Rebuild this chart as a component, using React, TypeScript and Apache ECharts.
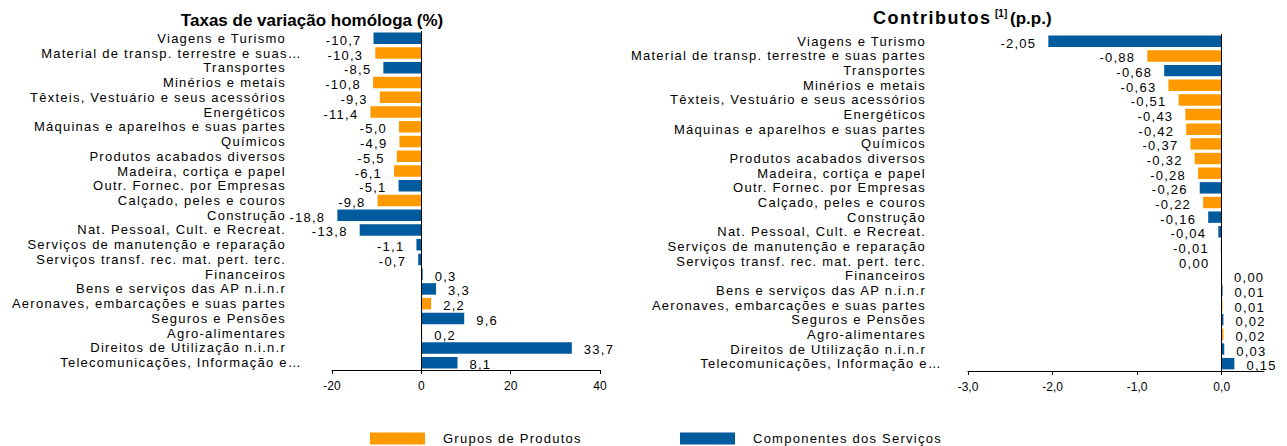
import React, { useEffect, useRef } from "react";
import * as echarts from "echarts";

const categoriesLeft = [
  "Viagens e Turismo",
  "Material de transp. terrestre e suas…",
  "Transportes",
  "Minérios e metais",
  "Têxteis, Vestuário e seus acessórios",
  "Energéticos",
  "Máquinas e aparelhos e suas partes",
  "Químicos",
  "Produtos acabados diversos",
  "Madeira, cortiça e papel",
  "Outr. Fornec. por Empresas",
  "Calçado, peles e couros",
  "Construção",
  "Nat. Pessoal, Cult. e Recreat.",
  "Serviços de manutenção e reparação",
  "Serviços transf. rec. mat. pert. terc.",
  "Financeiros",
  "Bens e serviços das AP n.i.n.r",
  "Aeronaves, embarcações e suas partes",
  "Seguros e Pensões",
  "Agro-alimentares",
  "Direitos de Utilização n.i.n.r",
  "Telecomunicações, Informação e…",
];

const categoriesRight = [
  "Viagens e Turismo",
  "Material de transp. terrestre e suas partes",
  "Transportes",
  "Minérios e metais",
  "Têxteis, Vestuário e seus acessórios",
  "Energéticos",
  "Máquinas e aparelhos e suas partes",
  "Químicos",
  "Produtos acabados diversos",
  "Madeira, cortiça e papel",
  "Outr. Fornec. por Empresas",
  "Calçado, peles e couros",
  "Construção",
  "Nat. Pessoal, Cult. e Recreat.",
  "Serviços de manutenção e reparação",
  "Serviços transf. rec. mat. pert. terc.",
  "Financeiros",
  "Bens e serviços das AP n.i.n.r",
  "Aeronaves, embarcações e suas partes",
  "Seguros e Pensões",
  "Agro-alimentares",
  "Direitos de Utilização n.i.n.r",
  "Telecomunicações, Informação e…",
];

// P = Grupos de Produtos, S = Componentes dos Serviços
const groupType = [
  "S", "P", "S", "P", "P", "P", "P", "P", "P", "P", "S", "P",
  "S", "S", "S", "S", "S", "S", "P", "S", "P", "S", "S",
];

const growthRates = [
  -10.7, -10.3, -8.5, -10.8, -9.3, -11.4, -5.0, -4.9, -5.5, -6.1, -5.1, -9.8,
  -18.8, -13.8, -1.1, -0.7, 0.3, 3.3, 2.2, 9.6, 0.2, 33.7, 8.1,
];

const contributions = [
  -2.05, -0.88, -0.68, -0.63, -0.51, -0.43, -0.42, -0.37, -0.32, -0.28, -0.26,
  -0.22, -0.16, -0.04, -0.01, -0.004, 0.004, 0.01, 0.01, 0.02, 0.02, 0.03, 0.15,
];

const leftTicks = [-20, 0, 20, 40];
const rightTicks = [-3, -2, -1, 0];
const legendNames = ["Grupos de Produtos", "Componentes dos Serviços"];

const ORANGE = "#FF9900";
const BLUE = "#005A9E";
const FONT = "Liberation Sans, Arial, sans-serif";

function fmt(v: number, d: number) {
  if (Math.abs(v) < 0.5 * Math.pow(10, -d)) v = 0;
  return v.toFixed(d).replace(".", ",");
}

function buildSeries(values: number[], gi: number, decimals: number) {
  return ["P", "S"].map((t, si) => ({
    name: legendNames[si],
    type: "bar",
    xAxisIndex: gi,
    yAxisIndex: gi,
    stack: "s" + gi,
    barCategoryGap: "22%",
    itemStyle: { color: si === 0 ? ORANGE : BLUE },
    label: {
      show: true,
      color: "#000",
      fontSize: 13,
      fontFamily: FONT,
      distance: 12,
      offset: [0, 2],
      formatter: (p: any) => fmt(p.value, decimals),
    },
    data: values.map((v, i) =>
      groupType[i] === t
        ? { value: v, label: { position: v < 0 ? "left" : "right" } }
        : "-"
    ),
    markLine:
      si === 0
        ? {
            silent: true,
            symbol: ["none", "none"],
            label: { show: false },
            lineStyle: { color: "#000", type: "solid", width: 1 },
            data: [{ xAxis: 0 }],
          }
        : undefined,
  }));
}

function applySpacing(root: HTMLElement) {
  root.querySelectorAll("text").forEach((el) => {
    const t = el as SVGTextElement;
    const fs = window.getComputedStyle(t).fontSize;
    if (fs === "13px") t.style.letterSpacing = "1.25px";
    if ((t.textContent || "") === "Contributos") t.style.letterSpacing = "1.5px";
  });
}

export default function App() {
  const ref = useRef<HTMLDivElement>(null);
  useEffect(() => {
    if (!ref.current) return;
    const el = ref.current;
    const chart = echarts.init(el, undefined, { renderer: "svg" });
    const catAxis = (gi: number, data: string[], margin: number) => ({
      type: "category",
      gridIndex: gi,
      inverse: true,
      data,
      axisLine: { show: false },
      axisTick: { show: false },
      axisLabel: {
        interval: 0,
        margin,
        fontSize: 13,
        color: "#000",
        fontFamily: FONT,
        formatter: (v: string) => (v.endsWith("…") ? "{t|" + v + "}" : v),
        rich: { t: { fontSize: 13, fontFamily: FONT, color: "#000", padding: [0, -16, 0, 0] } },
      },
    });
    const valAxis = (gi: number, min: number, max: number, interval: number, ticks: number[], dec: number) => ({
      type: "value",
      gridIndex: gi,
      min,
      max,
      interval,
      splitLine: { show: false },
      axisLine: { show: true, onZero: false, lineStyle: { color: "#000", width: 1 } },
      axisTick: { show: true, length: 4, customValues: ticks, lineStyle: { color: "#000" } },
      axisLabel: {
        fontSize: 12,
        color: "#000",
        fontFamily: FONT,
        margin: 10,
        customValues: ticks,
        formatter: (v: number) => (dec ? fmt(v, dec) : String(v)),
      },
    });
    chart.on("finished", () => applySpacing(el));
    chart.setOption({
      animation: false,
      grid: [
        { left: 332, top: 31, width: 268, height: 339 },
        { left: 968, top: 34, width: 296, height: 337 },
      ],
      yAxis: [catAxis(0, categoriesLeft, 46), catAxis(1, categoriesRight, 42)],
      xAxis: [
        valAxis(0, -20, 40, 20, leftTicks, 0),
        valAxis(1, -3, 0.5, 1, rightTicks, 1),
      ],
      legend: legendNames.map((n, i) => ({
        data: [n],
        left: i === 0 ? 370 : 680,
        top: 432,
        padding: 0,
        icon: "rect",
        itemWidth: 55,
        itemHeight: 12,
        textStyle: { fontSize: 13, color: "#000", fontFamily: FONT, padding: [0, 0, 0, 13] },
      })),
      graphic: [
        {
          type: "text",
          x: 312,
          y: 20,
          style: {
            text: "Taxas de variação homóloga (%)",
            fontSize: 17,
            fontWeight: "bold",
            fontFamily: FONT,
            fill: "#000",
            textAlign: "center",
            textVerticalAlign: "middle",
          },
        },
        {
          type: "text",
          x: 873,
          y: 18,
          style: {
            text: "Contributos",
            fontSize: 18,
            fontWeight: "bold",
            fontFamily: FONT,
            fill: "#000",
            textAlign: "left",
            textVerticalAlign: "middle",
          },
        },
        {
          type: "text",
          x: 995,
          y: 13,
          style: {
            text: "[1]",
            fontSize: 10,
            fontWeight: "bold",
            fontFamily: FONT,
            fill: "#000",
            textAlign: "left",
            textVerticalAlign: "middle",
          },
        },
        {
          type: "text",
          x: 1010,
          y: 18,
          style: {
            text: "(p.p.)",
            fontSize: 17,
            fontWeight: "bold",
            fontFamily: FONT,
            fill: "#000",
            textAlign: "left",
            textVerticalAlign: "middle",
          },
        },
      ],
      series: [
        ...buildSeries(growthRates, 0, 1),
        ...buildSeries(contributions, 1, 2),
      ],
    });
    applySpacing(el);
    return () => chart.dispose();
  }, []);
  return (
    <div
      ref={ref}
      style={{ position: "fixed", left: 0, top: 0, width: 1287, height: 446, background: "#fff" }}
    />
  );
}
